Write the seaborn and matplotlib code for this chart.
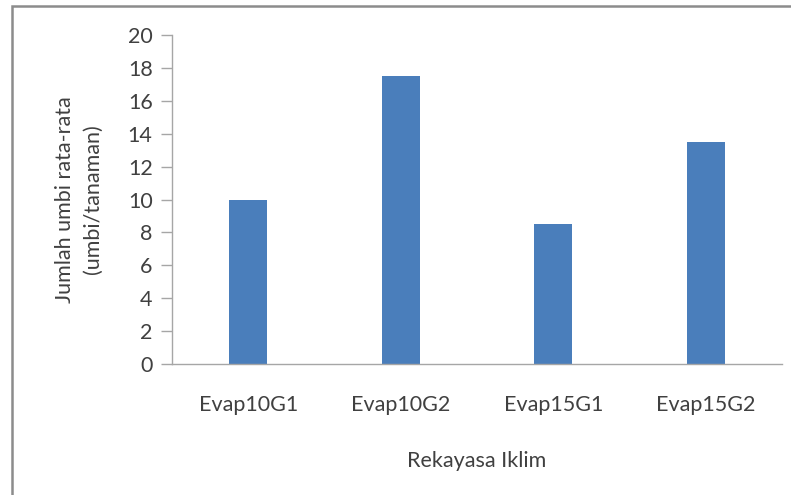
import matplotlib
matplotlib.use("Agg")
import matplotlib.pyplot as plt
import seaborn as sns
import pandas as pd
from matplotlib.patches import Rectangle

categories = ["Evap10G1", "Evap10G2", "Evap15G1", "Evap15G2"]
values = [10, 17.5, 8.5, 13.5]
y_ticks = [0, 2, 4, 6, 8, 10, 12, 14, 16, 18, 20]

sns.set_theme(style="white")
plt.rcParams["font.family"] = ["Lato", "DejaVu Sans"]

df = pd.DataFrame({"kategori": categories, "nilai": values})

fig = plt.figure(figsize=(7.91, 4.95), dpi=100)
ax = fig.add_axes([172 / 791, 1 - 364 / 495, (782 - 172) / 791, (364 - 35) / 495])

sns.barplot(data=df, x="kategori", y="nilai", color="#4A7EBB", width=0.25,
            saturation=1, ax=ax, linewidth=0)

ax.set_ylim(0, 20)
ax.set_xlim(-0.5, 3.5)
ax.set_yticks(y_ticks)
text_color = "#404040"
axis_color = "#A6A6A6"
fs = 15.5
ax.tick_params(axis="y", direction="out", length=8, width=1, color=axis_color,
               labelsize=fs, labelcolor=text_color, pad=6, left=True)
ax.tick_params(axis="x", length=0, labelsize=fs, labelcolor=text_color, pad=22)

for side in ["top", "right"]:
    ax.spines[side].set_visible(False)
for side in ["left", "bottom"]:
    ax.spines[side].set_color(axis_color)
    ax.spines[side].set_linewidth(1)

ax.set_xlabel("Rekayasa Iklim", fontsize=fs, color=text_color, labelpad=26)
ax.set_ylabel("Jumlah umbi rata-rata\n(umbi/tanaman)", fontsize=fs,
              color=text_color, labelpad=18, linespacing=1.5)

# outer frame of the chart area
fig.patches.append(Rectangle((11.5 / 791, -0.1), 1.2, (488.5 / 495) + 0.1,
                             transform=fig.transFigure, fill=False,
                             edgecolor="#8C8C8C", linewidth=1.8))

fig.savefig("out.png", dpi=100, facecolor="white")
